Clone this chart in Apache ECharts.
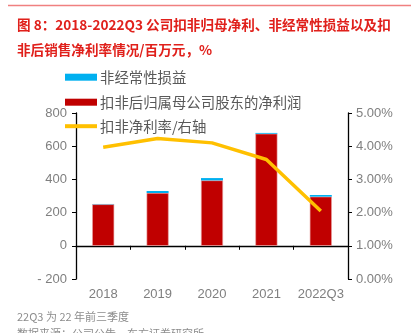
<!DOCTYPE html>
<html>
<head>
<meta charset="utf-8">
<script src="https://cdn.jsdelivr.net/npm/echarts@6/dist/echarts.min.js"></script>
<style>
  html, body { margin: 0; padding: 0; background: #fff; }
  #chart { width: 411px; height: 333px; }
</style>
</head>
<body>
<div id="chart"></div>
<script>
// Categories and series values (百万元 / %)
var categories = ['2018', '2019', '2020', '2021', '2022Q3'];
var coreProfit = [250, 318, 394, 675, 296];      // 扣非后归属母公司股东的净利润
var nonRecurring = [2, 12, 14, 5, 10];           // 非经常性损益
var coreMargin = [3.97, 4.23, 4.10, 3.60, 2.05]; // 扣非净利率 (%)

var leftTicks = { min: -200, max: 800, interval: 200 };
var rightTicks = { min: 0, max: 5, interval: 1 };

var FONT = '"Noto Sans CJK SC", "Noto Sans", sans-serif';
var LABEL_FONT = '"Liberation Sans", "Noto Sans", sans-serif';
var GRAY = '#7f7f7f';

var chart = echarts.init(document.getElementById('chart'), null, { renderer: 'canvas' });

function legendAt(top, name, color, h) {
  return {
    top: top, left: 60, orient: 'vertical',
    data: [{ name: name, icon: 'rect', itemStyle: { color: color, borderWidth: 0 } }],
    itemWidth: 32, itemHeight: h,
    itemGap: 0, selectedMode: false,
    textStyle: { color: '#595959', fontSize: 14.4, fontFamily: FONT, padding: [0, 0, 0, -2] }
  };
}

chart.setOption({
  animation: false,
  backgroundColor: '#fff',
  title: [
    {
      text: '图 8：2018-2022Q3 公司扣非归母净利、非经常性损益以及扣\n非后销售净利率情况/百万元，%',
      left: 12, top: 7,
      textStyle: { color: '#e0201b', fontSize: 13.6, fontWeight: 'bold', fontFamily: FONT, lineHeight: 25 }
    },
    {
      text: '22Q3 为 22 年前三季度\n数据来源：公司公告，东方证券研究所',
      left: 12, top: 303,
      textStyle: { color: '#8c8c8c', fontSize: 11, fontWeight: 'normal', fontFamily: FONT, lineHeight: 17 }
    }
  ],
  graphic: [
    { type: 'line', shape: { x1: 8, y1: 5.5, x2: 411, y2: 5.5 },
      style: { stroke: '#f08080', lineWidth: 1.5 } }
  ],
  legend: [
    legendAt(65, '非经常性损益', '#00b0f0', 7),
    legendAt(90, '扣非后归属母公司股东的净利润', '#c00000', 7),
    legendAt(114, '扣非净利率/右轴', '#ffc000', 4)
  ],
  grid: { left: 76, right: 63, top: 113, bottom: 54 },
  xAxis: {
    type: 'category',
    data: categories,
    axisLine: { onZero: true, onZeroAxisIndex: 0, lineStyle: { color: '#000', width: 1.3 } },
    axisTick: { show: true, length: 4, inside: false, lineStyle: { color: '#000' } },
    axisLabel: { color: GRAY, fontSize: 13, fontFamily: LABEL_FONT, margin: 9, interval: 0 },
    splitLine: { show: false }
  },
  yAxis: [
    {
      type: 'value', min: leftTicks.min, max: leftTicks.max, interval: leftTicks.interval,
      axisLine: { show: true, lineStyle: { color: '#000', width: 1.3 } },
      axisTick: { show: true, length: 4, lineStyle: { color: '#000' } },
      axisLabel: { color: GRAY, fontSize: 13, fontFamily: LABEL_FONT, margin: 9,
        formatter: function (v) { return v < 0 ? '- ' + Math.abs(v) : String(v); } },
      splitLine: { show: false }
    },
    {
      type: 'value', min: rightTicks.min, max: rightTicks.max, interval: rightTicks.interval,
      position: 'right',
      axisLine: { show: true, lineStyle: { color: '#000', width: 1.3 } },
      axisTick: { show: true, length: 4, lineStyle: { color: '#000' } },
      axisLabel: { color: GRAY, fontSize: 13, fontFamily: LABEL_FONT, margin: 8,
        formatter: function (v) { return v.toFixed(2) + '%'; } },
      splitLine: { show: false }
    }
  ],
  series: [
    {
      name: '扣非后归属母公司股东的净利润', type: 'bar', stack: 'profit',
      data: coreProfit, barWidth: 22,
      itemStyle: { color: '#c00000', borderColor: '#e8a0a0', borderWidth: 0.6 }
    },
    {
      name: '非经常性损益', type: 'bar', stack: 'profit',
      data: nonRecurring, barWidth: 22,
      itemStyle: { color: '#00b0f0' }
    },
    {
      name: '扣非净利率/右轴', type: 'line', yAxisIndex: 1,
      data: coreMargin, symbol: 'none',
      lineStyle: { color: '#ffc000', width: 3.5 },
      itemStyle: { color: '#ffc000' }
    }
  ]
});
</script>
</body>
</html>
